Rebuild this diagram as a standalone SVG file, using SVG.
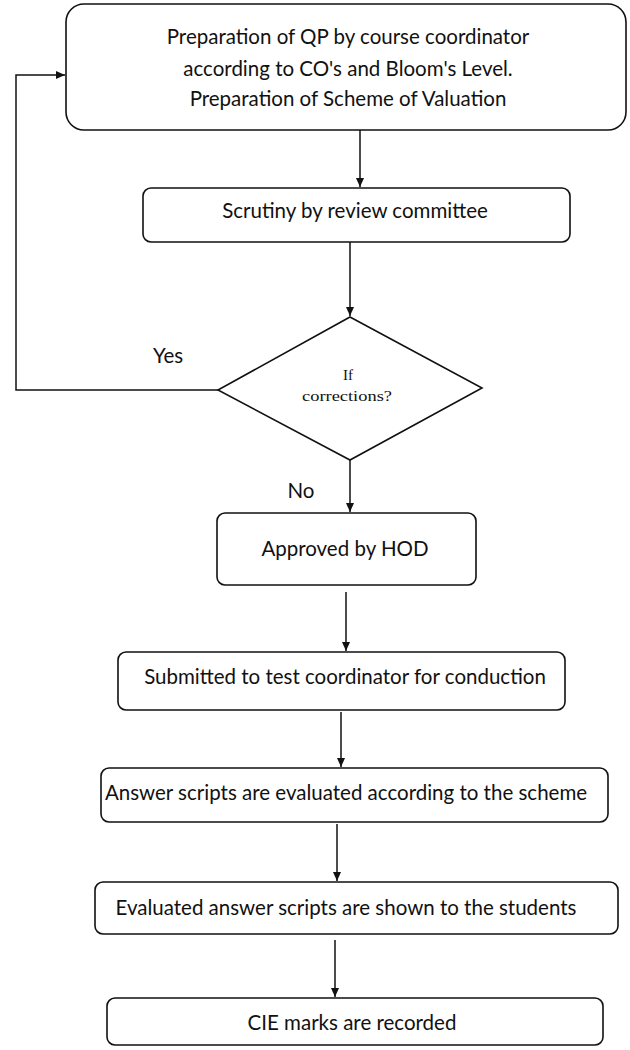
<svg xmlns="http://www.w3.org/2000/svg" width="630" height="1050" viewBox="0 0 630 1050">
<style>
.box{fill:#fff;stroke:#111;stroke-width:1.6}
.t{font-family:Lato,"Open Sans",sans-serif;font-size:20.5px;fill:#111;text-anchor:middle}
.s{font-family:"Liberation Serif",serif;font-size:15px;fill:#111;text-anchor:middle}
.c{fill:none;stroke:#111;stroke-width:1.5}
</style>
<defs>
<marker id="ah" markerWidth="10" markerHeight="10" refX="9" refY="5" orient="auto" markerUnits="userSpaceOnUse">
<path d="M0,1 L9,5 L0,9 Z" fill="#111"/>
</marker>
</defs>
<rect width="630" height="1050" fill="#fff"/>
<g id="connectors">
<line class="c" x1="360" y1="130" x2="360" y2="187" marker-end="url(#ah)"/>
<line class="c" x1="350" y1="242" x2="350" y2="316" marker-end="url(#ah)"/>
<polyline class="c" points="218,390 16,390 16,75 65,75" marker-end="url(#ah)"/>
<line class="c" x1="350" y1="460" x2="350" y2="512" marker-end="url(#ah)"/>
<line class="c" x1="346" y1="592" x2="346" y2="651" marker-end="url(#ah)"/>
<line class="c" x1="341" y1="712" x2="341" y2="767" marker-end="url(#ah)"/>
<line class="c" x1="337" y1="824" x2="337" y2="881" marker-end="url(#ah)"/>
<line class="c" x1="335" y1="940" x2="335" y2="997" marker-end="url(#ah)"/>
<text class="t" x="168" y="363">Yes</text>
<text class="t" x="301" y="498">No</text>
</g>
<g id="n1">
<rect class="box" x="66" y="4" width="560" height="126" rx="18"/>
<text class="t" x="348" y="44">Preparation of QP by course coordinator</text>
<text class="t" x="348" y="76">according to CO's and Bloom's Level.</text>
<text class="t" x="348" y="106">Preparation of Scheme of Valuation</text>
</g>
<g id="n2">
<rect class="box" x="143" y="188" width="427" height="54" rx="8"/>
<text class="t" x="355" y="218">Scrutiny by review committee</text>
</g>
<g id="n3">
<polygon class="box" points="350,317 482,388 350,460 218,390"/>
<text class="s" x="348" y="380">If</text>
<text class="s" x="347" y="401" textLength="90" lengthAdjust="spacingAndGlyphs">corrections?</text>
</g>
<g id="n4">
<rect class="box" x="217" y="513" width="259" height="72" rx="8"/>
<text class="t" x="345" y="556">Approved by HOD</text>
</g>
<g id="n5">
<rect class="box" x="118" y="652" width="447" height="58" rx="8"/>
<text class="t" x="345" y="684">Submitted to test coordinator for conduction</text>
</g>
<g id="n6">
<rect class="box" x="101" y="768" width="507" height="54" rx="8"/>
<text class="t" x="346" y="800">Answer scripts are evaluated according to the scheme</text>
</g>
<g id="n7">
<rect class="box" x="95" y="882" width="523" height="52" rx="8"/>
<text class="t" x="346" y="915">Evaluated answer scripts are shown to the students</text>
</g>
<g id="n8">
<rect class="box" x="107" y="998" width="496" height="47" rx="8"/>
<text class="t" x="352" y="1030">CIE marks are recorded</text>
</g>
</svg>
